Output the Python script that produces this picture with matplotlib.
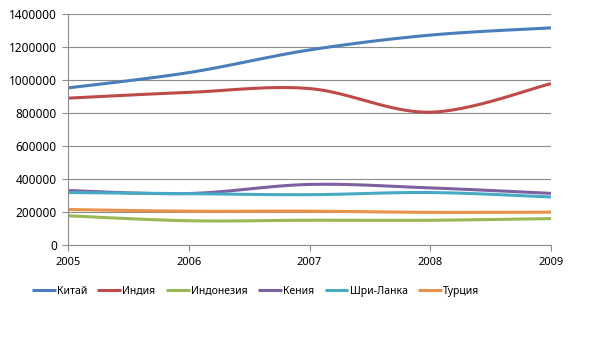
import matplotlib
matplotlib.use('Agg')
import matplotlib.pyplot as plt
import numpy as np

plt.rcParams['font.family'] = ['Noto Sans', 'DejaVu Sans']

years = [2005, 2006, 2007, 2008, 2009]
names = ['Китай', 'Индия', 'Индонезия', 'Кения', 'Шри-Ланка', 'Турция']
china = [952000, 1045000, 1182000, 1272000, 1316000]
india = [890000, 925000, 948000, 805000, 978000]
indonesia = [177000, 147000, 150000, 150000, 160000]
kenya = [330000, 312000, 367000, 346000, 313000]
srilanka = [318000, 311000, 305000, 318000, 291000]
turkey = [215000, 205000, 205000, 198000, 199000]
series = [china, india, indonesia, kenya, srilanka, turkey]
colors = ['#4A7EBB', '#BE4B48', '#98B954', '#7D60A0', '#46AAC5', '#E8924A']


def smooth(x, y, n=30):
    # catmull-rom style curve through the points, like excel "smoothed line"
    x = np.asarray(x, float)
    y = np.asarray(y, float)
    xs, ys = [], []
    for i in range(len(x) - 1):
        p0 = (x[max(i - 1, 0)], y[max(i - 1, 0)])
        p1 = (x[i], y[i])
        p2 = (x[i + 1], y[i + 1])
        p3 = (x[min(i + 2, len(x) - 1)], y[min(i + 2, len(x) - 1)])
        c1 = (p1[0] + (p2[0] - p0[0]) / 6, p1[1] + (p2[1] - p0[1]) / 6)
        c2 = (p2[0] - (p3[0] - p1[0]) / 6, p2[1] - (p3[1] - p1[1]) / 6)
        t = np.linspace(0, 1, n)
        bx = (1-t)**3*p1[0] + 3*(1-t)**2*t*c1[0] + 3*(1-t)*t**2*c2[0] + t**3*p2[0]
        by = (1-t)**3*p1[1] + 3*(1-t)**2*t*c1[1] + 3*(1-t)*t**2*c2[1] + t**3*p2[1]
        xs.extend(bx)
        ys.extend(by)
    return xs, ys


fig = plt.figure(figsize=(5.94, 3.56), dpi=100)
ax = fig.add_axes([0.1145, 0.3118, 0.8131, 0.6489])

for name, vals, c in zip(names, series, colors):
    sx, sy = smooth(years, vals)
    ax.plot(sx, sy, color=c, lw=2.2, label=name, solid_capstyle='butt')

ax.set_xlim(2005, 2009)
ax.set_ylim(0, 1400000)
ax.set_xticks(years)
ax.set_yticks(np.arange(0, 1400001, 200000))
ax.set_yticklabels([str(v) for v in range(0, 1400001, 200000)])
ax.grid(axis='y', color='#8C8C8C', lw=0.8)
ax.set_axisbelow(True)
for s in ['top', 'right']:
    ax.spines[s].set_visible(False)
for s in ['left', 'bottom']:
    ax.spines[s].set_color('#8C8C8C')
    ax.spines[s].set_linewidth(0.8)
ax.tick_params(axis='both', colors='#8C8C8C', labelcolor='black', labelsize=8, length=4, width=0.8)
ax.tick_params(axis='y', labelsize=8.5, pad=4)
ax.tick_params(axis='x', pad=5)

ax.legend(loc='upper center', bbox_to_anchor=(0.388, -0.135), ncol=6, frameon=False,
          fontsize=7.5, handlelength=2.3, handletextpad=0.1, columnspacing=1.0)

fig.savefig('out.png', dpi=100)
